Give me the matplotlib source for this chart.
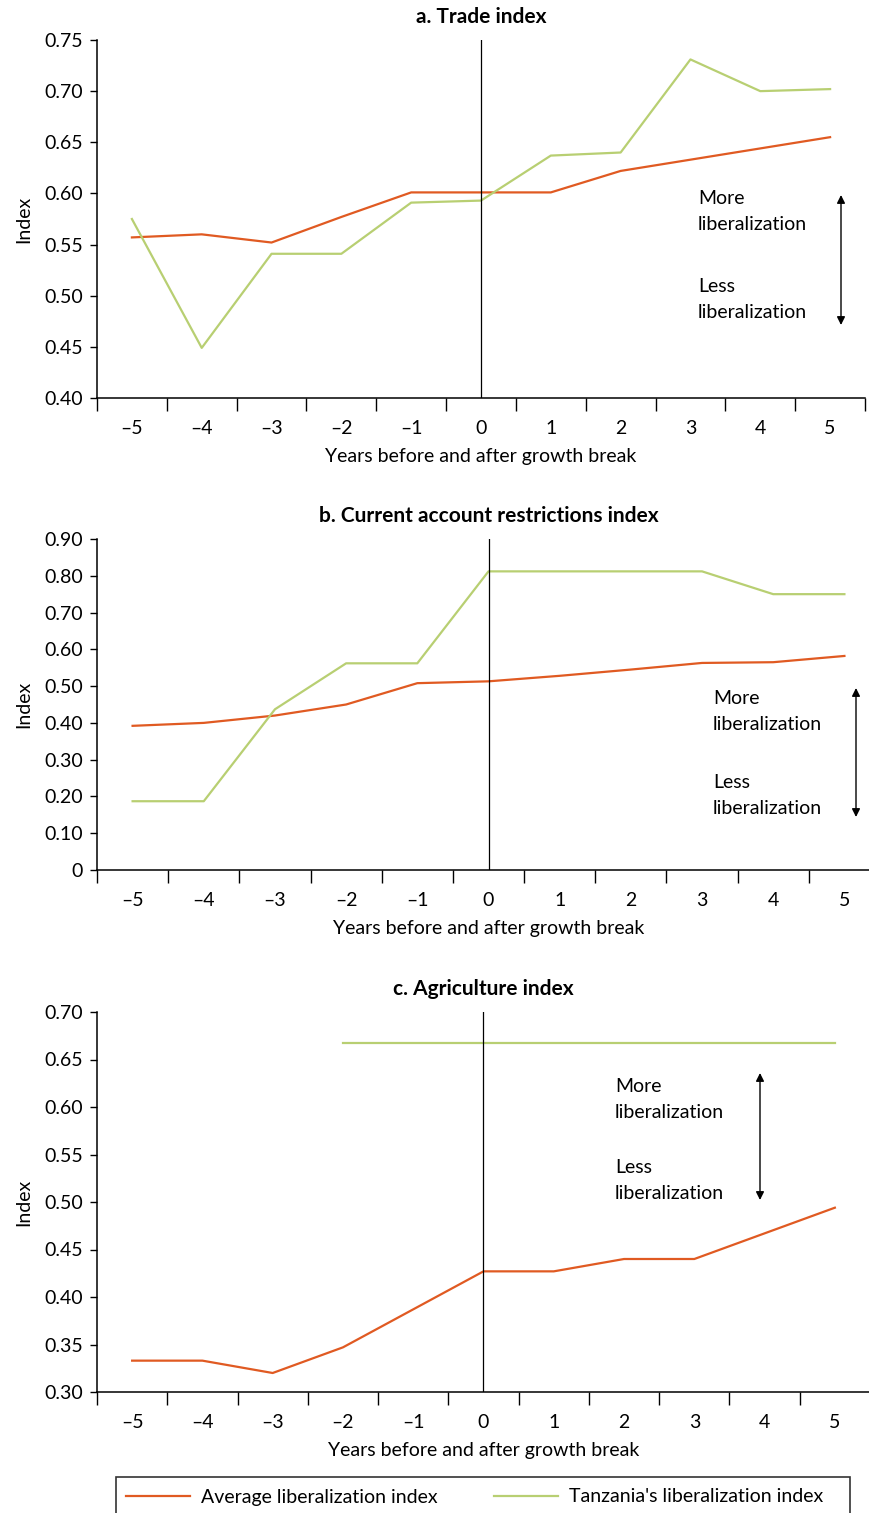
import matplotlib
import numpy as np

matplotlib.use("Agg")
import matplotlib.pyplot as plt
from matplotlib.lines import Line2D
from matplotlib.patches import Rectangle

plt.rcParams["font.family"] = ["Lato", "DejaVu Sans"]

years = ["\u20135", "\u20134", "\u20133", "\u20132", "\u20131", "0", "1", "2", "3", "4", "5"]

trade_avg = [0.557, 0.560, 0.552, 0.577, 0.601, 0.601, 0.601, 0.622, 0.633, 0.644, 0.655]
trade_tza = [0.575, 0.449, 0.541, 0.541, 0.591, 0.593, 0.637, 0.640, 0.731, 0.700, 0.702]

current_avg = [0.392, 0.400, 0.420, 0.450, 0.508, 0.513, 0.528, 0.545, 0.563, 0.565, 0.582]
current_tza = [0.187, 0.187, 0.437, 0.562, 0.562, 0.812, 0.812, 0.812, 0.812, 0.750, 0.750]

agri_avg = [0.333, 0.333, 0.320, 0.347, 0.387, 0.427, 0.427, 0.440, 0.440, 0.467, 0.494]
agri_tza = [np.nan, np.nan, np.nan, 0.667, 0.667, 0.667, 0.667, 0.667, 0.667, 0.667, 0.667]

ORANGE = "#E05A22"
GREEN = "#B8CF72"
W, H = 870, 1513
FS = 14

panels = [
    {
        "title": "a. Trade index",
        "avg": trade_avg,
        "tza": trade_tza,
        "yticks": [0.40, 0.45, 0.50, 0.55, 0.60, 0.65, 0.70, 0.75],
        "box": (97, 40, 865, 398),
        "text_x": 698, "more_y": 198, "less_y": 286,
        "arrow": (841, 195, 325),
    },
    {
        "title": "b. Current account restrictions index",
        "avg": current_avg,
        "tza": current_tza,
        "yticks": [0, 0.10, 0.20, 0.30, 0.40, 0.50, 0.60, 0.70, 0.80, 0.90],
        "box": (97, 539, 880, 870),
        "text_x": 713, "more_y": 698, "less_y": 782,
        "arrow": (856, 688, 817),
    },
    {
        "title": "c. Agriculture index",
        "avg": agri_avg,
        "tza": agri_tza,
        "yticks": [0.30, 0.35, 0.40, 0.45, 0.50, 0.55, 0.60, 0.65, 0.70],
        "box": (97, 1012, 870, 1392),
        "text_x": 615, "more_y": 1086, "less_y": 1167,
        "arrow": (760, 1073, 1200),
    },
]

fig = plt.figure(figsize=(W / 100, H / 100), dpi=100)

for p in panels:
    x0, y0, x1, y1 = p["box"]
    ax = fig.add_axes([x0 / W, 1 - y1 / H, (x1 - x0) / W, (y1 - y0) / H])
    x = np.arange(len(years))
    ax.plot(x, p["avg"], color=ORANGE, lw=1.6)
    ax.plot(x, p["tza"], color=GREEN, lw=1.6)
    ax.axvline(5, color="black", lw=0.9)

    ax.set_xlim(-0.5, len(years) - 0.5)
    ax.set_ylim(p["yticks"][0], p["yticks"][-1])
    ax.set_xticks(x)
    ax.set_xticklabels(years)
    ax.set_xticks(np.arange(-0.5, len(years)), minor=True)
    ax.tick_params(axis="x", which="major", length=0, pad=16, labelsize=FS)
    ax.tick_params(axis="x", which="minor", length=9, width=1, direction="out")
    ax.set_yticks(p["yticks"])
    ax.set_yticklabels(["0" if v == 0 else f"{v:.2f}" for v in p["yticks"]])
    ax.tick_params(axis="y", length=5, width=1, labelsize=FS, pad=5)
    for side in ("top", "right"):
        ax.spines[side].set_visible(False)
    for side in ("left", "bottom"):
        ax.spines[side].set_linewidth(1.1)

    ax.set_title(p["title"], fontsize=15, fontweight="bold", pad=12)
    ax.set_xlabel("Years before and after growth break", fontsize=FS, labelpad=8)
    ax.set_ylabel("Index", fontsize=FS, labelpad=9)

    def fx(px):
        return (px - x0) / (x1 - x0)

    def fy(py):
        return 1 - (py - y0) / (y1 - y0)

    ax.text(fx(p["text_x"]), fy(p["more_y"] - 8), "More\nliberalization",
            transform=ax.transAxes, va="top", ha="left", fontsize=FS, linespacing=1.62)
    ax.text(fx(p["text_x"]), fy(p["less_y"] - 8), "Less\nliberalization",
            transform=ax.transAxes, va="top", ha="left", fontsize=FS, linespacing=1.62)
    axp, ay_top, ay_bot = p["arrow"]
    ax.annotate("", xy=(fx(axp), fy(ay_top)), xytext=(fx(axp), fy(ay_bot)),
                xycoords="axes fraction", textcoords="axes fraction",
                arrowprops=dict(arrowstyle="<|-|>", color="black", lw=1,
                                mutation_scale=12, shrinkA=0, shrinkB=0))

# legend box drawn as a figure rectangle, running off the bottom edge
fig.patches.append(Rectangle((116 / W, 1 - 1520 / H), (850 - 116) / W, 43 / H,
                             transform=fig.transFigure, fill=False,
                             edgecolor="#333333", lw=1.2))
handles = [
    Line2D([], [], color=ORANGE, lw=1.6),
    Line2D([], [], color=GREEN, lw=1.6),
]
fig.legend(
    handles,
    ["Average liberalization index", "Tanzania's liberalization index"],
    loc="center left",
    bbox_to_anchor=(126 / W, 1 - 1497 / H),
    ncol=2,
    fontsize=FS,
    frameon=False,
    handlelength=3.3,
    handletextpad=0.55,
    columnspacing=2.9,
    borderpad=0,
    borderaxespad=0,
)

fig.savefig("out.png", dpi=100)
